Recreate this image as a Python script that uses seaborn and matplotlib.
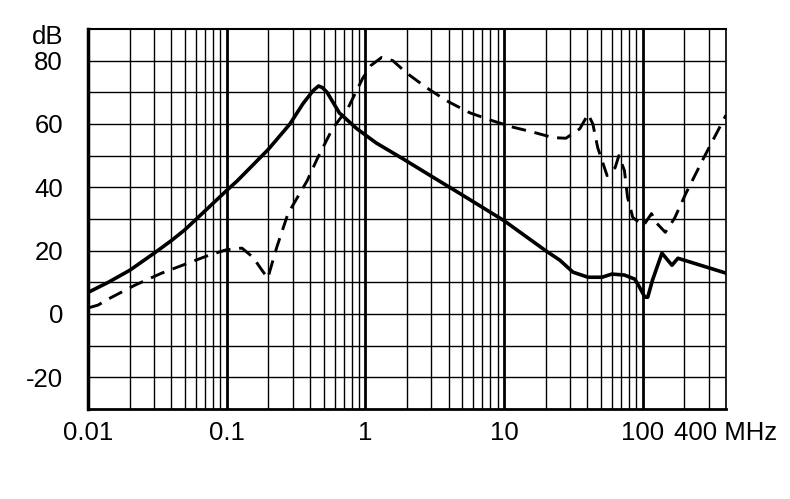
import numpy as np
import pandas as pd
import matplotlib
matplotlib.use("Agg")
import matplotlib.pyplot as plt
import seaborn as sns

# Solid curve (MHz, dB)
freq_solid = [0.01, 0.014, 0.02, 0.03, 0.04, 0.05, 0.064, 0.08, 0.1, 0.119, 0.2, 0.286,
              0.355, 0.42, 0.46, 0.49, 0.53, 0.65, 0.87, 1.2, 1.87, 3, 5, 10, 20, 25.3,
              31.5, 40.5, 51, 60, 74, 88, 95, 104, 109, 118, 138, 163, 180, 400]
db_solid = [6.8, 10, 13.8, 19.2, 23.2, 26.6, 31, 35, 39, 42, 52, 60,
            66.4, 70.5, 72, 71.5, 70, 63.5, 58.5, 54, 49, 43.5, 37.6, 29.5, 20, 17,
            13.2, 11.6, 11.6, 12.6, 12.3, 11, 8.5, 5.3, 5.3, 10.7, 19.2, 15.4, 17.6, 12.9]

# Dashed curve (MHz, dB)
freq_dashed = [0.01, 0.0118, 0.0144, 0.0218, 0.034, 0.056, 0.075, 0.1, 0.129, 0.155, 0.18,
               0.198, 0.23, 0.277, 0.38, 0.45, 0.58, 0.75, 0.96, 1.1, 1.31, 1.58, 2.0,
               2.78, 3.87, 5.7, 8.3, 11.6, 16, 22.6, 28, 35.3, 40.5, 43.8, 47.5, 55.5,
               63.4, 67.5, 74, 78, 85, 100, 104, 116, 127, 146, 170, 205, 277, 400]
db_dashed = [1.9, 2.8, 5, 9.1, 12.9, 16.5, 18.6, 20.3, 20.8, 17.9, 13.8,
             11.3, 21.1, 31.7, 42, 49, 58.5, 65, 74.5, 78.5, 81, 80, 76,
             71.4, 67.3, 63.5, 61, 59, 57.5, 55.7, 55.5, 58.5, 63.1, 60, 52.5, 43.7,
             46.2, 50, 45.3, 36.8, 30.5, 28, 28.6, 31.7, 28.6, 25.8, 30.2, 38, 49.4, 62.8]

x_tick_values = [0.01, 0.1, 1, 10, 100, 400]
x_tick_labels = ["0.01", "0.1", "1", "10", "100", "400 MHz"]
y_tick_values = [-20, 0, 20, 40, 60, 80, 88.2]
y_tick_labels = ["-20", "0", "20", "40", "60", "80", "dB"]

sns.set_style("white")
plt.rcParams["font.family"] = ["Liberation Sans", "DejaVu Sans"]

fig, ax = plt.subplots(figsize=(7.9, 4.99), dpi=100)
fig.subplots_adjust(left=0.1114, right=0.919, bottom=0.1804, top=0.9419)

# grid: thin lines at every 10 dB and 1..9 per decade, thick at the decades
for y in range(-20, 90, 10):
    ax.axhline(y, color="black", lw=1.0, zorder=1)
for decade in [0.01, 0.1, 1, 10, 100]:
    for k in range(1, 10):
        f = decade * k
        if f > 400:
            break
        if k == 1 and decade > 0.01:
            ax.axvline(f, color="black", lw=2.0, zorder=1)
        elif k > 1:
            ax.axvline(f, color="black", lw=1.0, zorder=1)

solid = pd.DataFrame({"freq": freq_solid, "db": db_solid})
dashed = pd.DataFrame({"freq": freq_dashed, "db": db_dashed})

sns.lineplot(data=dashed, x="freq", y="db", ax=ax, color="black", lw=2.1,
             linestyle=(0, (5, 3)), sort=False, zorder=3)
sns.lineplot(data=solid, x="freq", y="db", ax=ax, color="black", lw=2.6,
             sort=False, zorder=4)

ax.set_xscale("log")
ax.set_xlim(0.01, 400)
ax.set_ylim(-30, 90)
ax.set_xticks(x_tick_values)
ax.set_xticklabels(x_tick_labels)
ax.xaxis.set_minor_locator(matplotlib.ticker.NullLocator())
ax.set_yticks(y_tick_values)
ax.set_yticklabels(y_tick_labels)
ax.tick_params(axis="both", length=0, labelsize=18.5, colors="black")
ax.tick_params(axis="x", pad=9)
ax.tick_params(axis="y", pad=18)
ax.set_xlabel("")
ax.set_ylabel("")

for side, w in [("left", 2.5), ("bottom", 2.0), ("top", 1.5), ("right", 1.2)]:
    ax.spines[side].set_visible(True)
    ax.spines[side].set_color("black")
    ax.spines[side].set_linewidth(w)

fig.savefig("out.png", dpi=100, facecolor="white")
